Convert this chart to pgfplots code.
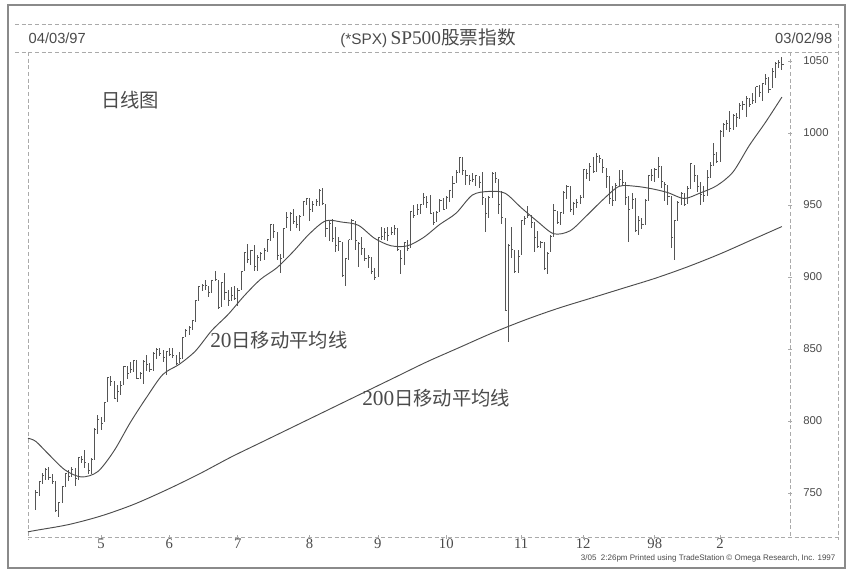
\documentclass[border=0pt]{standalone}
\usepackage{pgfplots}
\usepackage{pgfplotstable}
\pgfplotsset{compat=1.18}
\usepackage{fontspec}
\setmainfont{Liberation Serif}
\newfontfamily\arial{Liberation Sans}
\newfontfamily\cjk{Noto Sans CJK SC}
\definecolor{ink}{HTML}{4A4A4A}
\definecolor{barc}{HTML}{555555}
\definecolor{framec}{HTML}{8A8A8A}
\definecolor{dashc}{HTML}{AAAAAA}
\pgfdeclareplotmark{ctick}{\pgfpathmoveto{\pgfpointorigin}\pgfpathlineto{\pgfpoint{1.3pt}{0pt}}\pgfusepathqstroke}

\pgfplotstableread{
h l c
752 738 750.3
758 748 757.9
764 756 762.1
767 759 766.1
768 759 760.6
763 756 758.3
758 737 737.7
744 733 743.7
755 743 754.7
764 754 763.5
766 758 761.8
768 761 766.3
767 755 760.4
775 759 774.6
776 771 773.6
780 767 771.2
771 763 765.4
774 763 773.0
795 773 794.1
804 791 801.3
803 794 798.5
813 799 813.0
830 813 830.2
831 824 827.8
828 815 815.6
825 813 820.3
828 818 824.8
838 825 837.7
838 829 833.1
841 833 836.0
842 834 841.9
842 829 829.8
834 829 833.3
842 826 841.7
846 835 839.4
840 834 835.7
848 835 847.0
851 843 849.7
851 845 847.2
849 841 844.1
848 832 848.3
851 845 846.4
851 844 845.5
846 839 840.1
848 840 843.4
858 843 858.0
864 858 862.9
866 860 865.3
870 863 869.6
883 869 883.5
894 883 893.3
895 890 893.9
898 891 894.4
894 886 889.1
898 889 898.0
904 897 898.7
898 878 878.6
896 879 896.3
903 884 889.0
891 880 883.7
893 883 887.3
894 884 885.1
892 880 891.0
904 891 904.0
917 904 916.9
923 910 912.2
919 908 918.8
922 904 907.5
915 904 913.8
917 911 916.7
920 912 918.4
926 917 925.8
937 925 936.6
937 927 931.6
931 912 915.3
916 903 912.9
934 913 934.0
945 934 941.4
945 932 944.3
947 937 938.8
942 934 936.5
943 932 942.3
953 942 952.3
955 950 954.3
955 939 947.1
953 945 950.3
954 949 952.4
961 949 960.3
962 950 951.2
951 928 933.5
939 925 937.0
940 924 926.5
935 917 922.0
928 918 924.8
924 900 900.8
913 894 912.6
926 912 926.0
940 926 939.4
939 919 925.1
924 907 923.5
928 915 920.2
920 911 913.0
915 906 913.7
914 902 903.7
906 898 899.5
928 900 927.6
935 926 927.9
934 926 930.9
935 925 929.1
935 929 931.2
936 929 933.6
934 918 919.0
919 902 912.6
924 908 923.9
926 918 919.8
946 920 945.6
950 941 943.0
951 943 947.3
951 944 950.5
958 950 955.4
956 948 951.9
957 944 944.5
945 936 937.9
946 938 945.2
954 945 953.3
955 947 947.3
956 947 955.4
960 952 960.5
970 955 965.0
974 965 972.7
983 972 983.1
983 971 973.8
974 964 970.6
971 964 967.0
972 966 968.1
971 963 970.3
970 962 965.7
973 950 955.3
955 931 944.2
956 941 955.6
973 955 972.3
973 965 968.5
968 944 950.7
960 937 941.6
941 877 877.0
923 855 921.9
935 913 919.2
919 903 903.7
919 903 914.6
939 915 939.0
942 936 940.8
949 941 942.8
943 934 938.0
938 917 927.5
932 920 921.1
925 920 923.8
924 905 906.0
917 902 916.7
929 917 928.4
951 928 946.2
946 937 938.2
945 936 944.6
960 944 959.0
964 954 963.1
963 945 946.7
952 943 950.8
954 948 951.6
957 951 955.4
975 955 974.8
975 968 971.7
979 967 976.8
983 972 973.1
986 973 983.8
985 979 982.4
982 972 975.8
976 962 969.8
970 951 954.9
963 949 953.4
965 953 963.4
974 963 968.0
974 964 965.5
966 950 955.3
956 924 946.8
958 947 953.7
955 931 932.7
942 929 939.1
941 933 936.5
954 936 953.4
971 953 970.8
975 967 970.4
976 966 975.0
983 969 977.1
977 962 966.6
966 953 964.0
964 950 956.1
956 920 927.7
939 912 939.2
953 939 952.1
959 950 957.9
958 949 950.7
963 951 961.5
979 961 978.6
978 966 970.8
971 959 963.0
966 950 957.6
963 952 957.0
974 956 969.0
980 969 977.5
993 977 985.5
987 979 980.3
1002 980 1001.3
1007 997 1006.0
1009 1002 1006.9
1015 1001 1003.5
1013 1002 1012.5
1014 1004 1010.7
1021 1010 1019.0
1022 1016 1020.0
1026 1011 1024.1
1024 1018 1020.1
1028 1020 1022.8
1032 1021 1032.1
1033 1025 1028.3
1035 1022 1034.2
1041 1033 1038.1
1039 1028 1030.6
1045 1031 1042.9
1049 1038 1048.7
1051 1045 1049.3
1053 1044 1047.7
}\spx

\pgfplotstableread{
x m
-2.4 788
0 785.8
4 776.7
9 765.9
14 761.1
19 764.8
24 779.2
29 798.9
34 816.4
39 832.3
44 839.3
49 848.6
54 862.8
59 873.9
64 887.0
69 898.4
74 906.4
79 917.6
84 930.0
89 939.0
94 938.1
99 935.9
104 926.8
109 921.7
114 921.6
119 927.4
124 936.5
129 944.3
134 956.9
139 959.4
144 958.2
149 948.1
154 938.5
159 930.0
164 932.1
169 942.4
174 953.5
179 962.9
184 963.0
189 961.3
194 958.6
199 954.5
204 958.4
209 963.4
214 972.9
219 991.3
224 1007.5
229 1024.9
}\maTwenty

\pgfplotstableread{
x m
-2.4 723
0 724
10 728
20 734
30 742
40 752
50 763
60 775
70 786
80 797
90 808
100 819
110 830
120 841
130 851
140 861
150 870
160 878
170 885
180 892
190 899
200 907
210 916
220 926
229 935
}\maTwoHundred

\begin{document}
\begin{tikzpicture}[x=0.75pt,y=0.75pt]
\useasboundingbox (0,0) rectangle (849,575);
% outer frame
\draw[framec, line width=1.4pt] (8,570) rectangle (845,7);
% header and plot frame lines (dashed, light)
\draw[dashc, densely dashed, line width=0.5pt] (15,551) -- (838,551);
\draw[dashc, densely dashed, line width=0.5pt] (15,523) -- (838,523);
\draw[dashc, densely dashed, line width=0.5pt] (28,523) -- (28,35);
\draw[dashc, densely dashed, line width=0.5pt] (838,551) -- (838,35);
\draw[dashc, densely dashed, line width=0.5pt] (790,523) -- (790,38);
\draw[dashc, densely dashed, line width=0.5pt] (28,38) -- (838,38);
% header texts
\node[anchor=west, text=ink, font=\arial\fontsize{11}{13}\selectfont] at (24,537) {04/03/97};
\node[anchor=east, text=ink, font=\arial\fontsize{11}{13}\selectfont] at (837,537) {03/02/98};
\node[text=ink] at (428,537) {{\arial\fontsize{11.5}{13}\selectfont (*SPX)}\ {\fontsize{14.5}{16}\selectfont SP500}{\cjk\fontsize{14}{16}\selectfont 股票指数}};

\begin{axis}[
  at={(21pt,28.5pt)}, anchor=south west,
  scale only axis, width=571.5pt, height=363.75pt,
  xmin=-2.4, xmax=231.5, ymin=719.4, ymax=1056.25,
  axis line style={draw=none},
  xtick={20,41,62,84,105,126,149,168,190,210},
  xticklabels={5,6,7,8,9,10,11,12,98,2},
  xtick pos=bottom, ytick pos=right, yticklabel pos=right,
  ytick={750,800,850,900,950,1000,1050},
  tick align=center, major tick length=3pt,
  tick style={dashc, line width=0.5pt},
  xticklabel style={text=ink, font=\fontsize{11}{13}\selectfont, yshift=3.5pt},
  yticklabel style={text=ink, font=\arial\fontsize{8.5}{10}\selectfont, xshift=5pt},
  /pgf/number format/assume math mode=true,
  /pgf/number format/1000 sep={},
  clip=false,
]
\addplot[only marks, mark=ctick, color=barc, mark options={line width=0.5pt},
  error bars/.cd, y dir=both, y explicit, error mark=none,
  error bar style={line width=0.55pt, barc}]
  table[x expr=\coordindex, y=c, y error plus expr=\thisrow{h}-\thisrow{c}, y error minus expr=\thisrow{c}-\thisrow{l}] {\spx};
\addplot[color=barc!90!black, line width=0.7pt, smooth, tension=0.5, mark=none] table[x=x, y=m] {\maTwenty};
\addplot[color=barc!90!black, line width=0.7pt, smooth, tension=0.5, mark=none] table[x=x, y=m] {\maTwoHundred};
\end{axis}

% annotations
\node[text=ink, font=\cjk\fontsize{14.5}{16}\selectfont] at (130,475) {日线图};
\node[anchor=west, text=ink, inner sep=0pt] at (210,235) {{\fontsize{16}{18}\selectfont 20}{\cjk\fontsize{14.5}{16}\selectfont 日移动平均线}};
\node[anchor=west, text=ink, inner sep=0pt] at (362,177) {{\fontsize{16}{18}\selectfont 200}{\cjk\fontsize{14.5}{16}\selectfont 日移动平均线}};
% footer
\node[anchor=east, text=ink, font=\arial\fontsize{6}{7}\selectfont, inner sep=1pt] at (837,17) {3/05\ \ 2:26pm Printed using TradeStation \textcopyright\ Omega Research, Inc. 1997};
\end{tikzpicture}
\end{document}
